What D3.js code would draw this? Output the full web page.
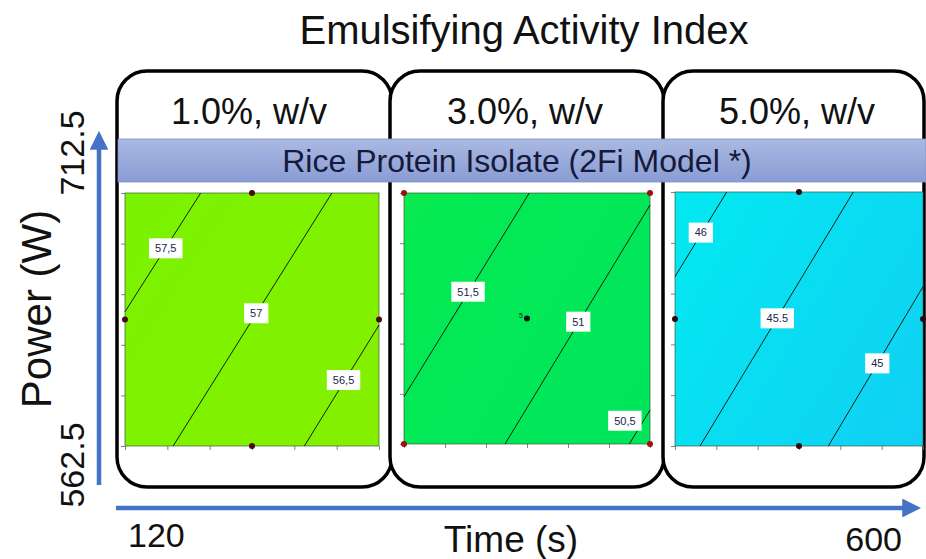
<!DOCTYPE html>
<html><head><meta charset="utf-8">
<script src="https://cdn.jsdelivr.net/npm/d3@7"></script>
<style>
body{margin:0;background:#fff}
svg{display:block;font-family:"Liberation Sans",Arial,Helvetica,sans-serif}
</style>
</head><body>
<svg id="chart" width="926" height="559"></svg>
<script>
// ---- data ----
const chartTitle = "Emulsifying Activity Index";
const bandLabel = "Rice Protein Isolate (2Fi Model *)";
const concentrations = ["1.0%, w/v", "3.0%, w/v", "5.0%, w/v"];
const timeRange = [120, 600];
const powerRange = [562.5, 712.5];
const timeTicks = [120, 200, 280, 360, 440, 520, 600];
const powerTicks = [562.5, 592.5, 622.5, 652.5, 682.5, 712.5];
const timeEndLabels = ["120", "600"];
const powerEndLabels = ["562.5", "712.5"];
const timeTitle = "Time (s)";
const powerTitle = "Power (W)";

// contour lines of the fitted EAI surface: level, printed label, path (time, power), label anchor
const contours1pct = [
  { level: 57.5, text: "57,5", path: [[263, 712.5], [120, 642.1]], at: [197, 679.7] },
  { level: 57.0, text: "57",   path: [[511, 712.5], [211, 562.5]], at: [368, 641.2] },
  { level: 56.5, text: "56,5", path: [[459, 562.5], [600, 634.2]], at: [533, 601.6] }
];
const contours3pct = [
  { level: 51.5, text: "51,5", path: [[364.5, 712.5], [120, 590.8]], at: [245, 653.5] },
  { level: 51.0, text: "51",   path: [[600, 705.3], [317.1, 562.5]], at: [460, 635.6] },
  { level: 50.5, text: "50,5", path: [[559.6, 562.5], [600, 582.8]], at: [551, 576.4] }
];
const contours5pct = [
  { level: 46.0, text: "46",   path: [[220, 712.5], [120, 662.5]], at: [170, 688.5] },
  { level: 45.5, text: "45.5", path: [[465.1, 712.5], [168.4, 562.5]], at: [318, 637.9] },
  { level: 45.0, text: "45",   path: [[416.8, 562.5], [600, 656.6]], at: [511.5, 611.3] }
];

// design runs (time, power)
const edgeRuns = [[360, 712.5], [120, 637.5], [600, 637.5], [360, 562.5]];
const cornerRuns = [[120, 712.5], [600, 712.5], [120, 562.5], [600, 562.5]];
const centerRuns = [[360, 637.5]];
const centerReplicates = ["5"];

// EAI value -> fill colour
const eaiLevels = [44.5, 46.5, 50.3, 51.8, 56.2, 57.8];
const eaiColors = ["#12cdf4", "#00eef0", "#00e45e", "#04ea52", "#84f000", "#7af300"];

// ---- layout ----
const svg = d3.select("#chart");
const W = 926, H = 559;
const blue = "#4472c4";
const fillColor = d3.scaleLinear().domain(eaiLevels).range(eaiColors).clamp(true);

const defs = svg.append("defs");

// outer rounded boxes
const boxes = [
  { x: 117, w: 275 },
  { x: 390, w: 274 },
  { x: 663, w: 261 }
];
const boxTop = 71, boxBottom = 487;

svg.selectAll("rect.box").data(boxes).join("rect")
  .attr("class", "box")
  .attr("x", d => d.x).attr("y", boxTop)
  .attr("width", d => d.w).attr("height", boxBottom - boxTop)
  .attr("rx", 30).attr("ry", 30)
  .attr("fill", "#fff").attr("stroke", "#000").attr("stroke-width", 3.5);

// title
svg.append("text").attr("x", 524).attr("y", 44)
  .attr("text-anchor", "middle").attr("font-size", 40).attr("fill", "#111")
  .text(chartTitle);

// concentration headers
const headerX = [249, 525, 797];
svg.selectAll("text.conc").data(concentrations).join("text")
  .attr("class", "conc")
  .attr("x", (d, i) => headerX[i]).attr("y", 124)
  .attr("text-anchor", "middle").attr("font-size", 36).attr("fill", "#111")
  .text(d => d);

// blue band
const bandGrad = defs.append("linearGradient").attr("id", "bandGrad")
  .attr("x1", 0).attr("y1", 0).attr("x2", 0).attr("y2", 1);
bandGrad.append("stop").attr("offset", 0).attr("stop-color", "#aab9e2");
bandGrad.append("stop").attr("offset", 1).attr("stop-color", "#899cd4");
svg.append("rect").attr("x", 118).attr("y", 139).attr("width", W - 118).attr("height", 43)
  .attr("fill", "url(#bandGrad)").attr("stroke", "#8193c6").attr("stroke-width", 0.8);
svg.append("text").attr("x", 517).attr("y", 172)
  .attr("text-anchor", "middle").attr("font-size", 32).attr("fill", "#15193a")
  .text(bandLabel);

// contour panels
const panels = [
  { x0: 125, x1: 379, y0: 193, y1: 446, contours: contours1pct, runs: edgeRuns, runColor: "#4a0a0a" },
  { x0: 404, x1: 650, y0: 193, y1: 444, contours: contours3pct, runs: cornerRuns, runColor: "#a01010", center: true },
  { x0: 675, x1: 923, y0: 192, y1: 446, contours: contours5pct, runs: edgeRuns, runColor: "#2a0a0a" }
];

panels.forEach((p, pi) => {
  const x = d3.scaleLinear().domain(timeRange).range([p.x0, p.x1]);
  const y = d3.scaleLinear().domain(powerRange).range([p.y1, p.y0]);
  const g = svg.append("g");

  // gradient perpendicular to the contour lines
  const mid = p.contours[1];
  const P1 = [x(mid.path[0][0]), y(mid.path[0][1])];
  const P2 = [x(mid.path[1][0]), y(mid.path[1][1])];
  const len = Math.hypot(P2[0] - P1[0], P2[1] - P1[1]);
  const dir = [(P2[0] - P1[0]) / len, (P2[1] - P1[1]) / len];
  const nrm = [-dir[1], dir[0]];
  const sOf = q => (q[0] - P1[0]) * nrm[0] + (q[1] - P1[1]) * nrm[1];
  const ref = p.contours[0];
  const sRef = sOf([x(ref.path[0][0]), y(ref.path[0][1])]);
  const valAt = s => mid.level + (s / sRef) * (ref.level - mid.level);
  const corners = [[p.x0, p.y0], [p.x1, p.y0], [p.x0, p.y1], [p.x1, p.y1]].map(sOf);
  const sMin = d3.min(corners), sMax = d3.max(corners);
  const gid = "fill" + pi;
  const lg = defs.append("linearGradient").attr("id", gid).attr("gradientUnits", "userSpaceOnUse")
    .attr("x1", P1[0] + nrm[0] * sMin).attr("y1", P1[1] + nrm[1] * sMin)
    .attr("x2", P1[0] + nrm[0] * sMax).attr("y2", P1[1] + nrm[1] * sMax);
  d3.range(0, 1.0001, 0.125).forEach(t => {
    lg.append("stop").attr("offset", t).attr("stop-color", fillColor(valAt(sMin + t * (sMax - sMin))));
  });

  g.append("rect").attr("x", p.x0).attr("y", p.y0)
    .attr("width", p.x1 - p.x0).attr("height", p.y1 - p.y0)
    .attr("fill", `url(#${gid})`);

  // ticks
  const ax = g.append("g").attr("transform", `translate(0,${p.y1})`)
    .call(d3.axisBottom(x).tickValues(timeTicks).tickSize(4).tickFormat(""));
  const ay = g.append("g").attr("transform", `translate(${p.x0},0)`)
    .call(d3.axisLeft(y).tickValues(powerTicks).tickSize(4).tickFormat(""));
  [ax, ay].forEach(a => {
    a.select(".domain").remove();
    a.selectAll("line").attr("stroke", "#666").attr("stroke-width", 0.8);
  });

  // frame
  g.append("rect").attr("x", p.x0).attr("y", p.y0)
    .attr("width", p.x1 - p.x0).attr("height", p.y1 - p.y0)
    .attr("fill", "none").attr("stroke", "#3c5a3c").attr("stroke-opacity", 0.7).attr("stroke-width", 1);

  // contour lines
  const line = d3.line().x(d => x(d[0])).y(d => y(d[1]));
  g.selectAll("path.contour").data(p.contours).join("path")
    .attr("class", "contour")
    .attr("d", d => line(d.path))
    .attr("fill", "none").attr("stroke", "#102010").attr("stroke-width", 1);

  // labels
  const lab = g.selectAll("g.lab").data(p.contours).join("g")
    .attr("class", "lab")
    .attr("transform", d => `translate(${x(d.at[0])},${y(d.at[1])})`);
  lab.append("text").attr("text-anchor", "middle").attr("dy", "0.35em")
    .attr("font-size", 11).attr("fill", "#23234a").text(d => d.text);
  lab.each(function () {
    const t = d3.select(this).select("text");
    const bb = t.node().getBBox();
    d3.select(this).insert("rect", "text")
      .attr("x", bb.x - 6).attr("y", -10).attr("width", bb.width + 12).attr("height", 20)
      .attr("fill", "#fff");
  });

  // design runs
  g.selectAll("circle.run").data(p.runs).join("circle")
    .attr("class", "run")
    .attr("cx", d => x(d[0])).attr("cy", d => y(d[1])).attr("r", 3)
    .attr("fill", p.runColor);
  if (p.center) {
    g.selectAll("circle.ctr").data(centerRuns).join("circle")
      .attr("class", "ctr")
      .attr("cx", d => x(d[0])).attr("cy", d => y(d[1])).attr("r", 3)
      .attr("fill", "#111");
    g.selectAll("text.ctr").data(centerRuns).join("text")
      .attr("class", "ctr")
      .attr("x", d => x(d[0]) - 6).attr("y", d => y(d[1]) - 1)
      .attr("text-anchor", "middle").attr("font-size", 7).attr("fill", "#222")
      .text((d, i) => centerReplicates[i]);
  }
});

// axis arrows
const arrow = defs.append("marker").attr("id", "arrowHead")
  .attr("viewBox", "0 0 10 10").attr("refX", 2).attr("refY", 5)
  .attr("markerWidth", 4.2).attr("markerHeight", 4.2).attr("orient", "auto")
  .attr("markerUnits", "strokeWidth");
arrow.append("path").attr("d", "M0,0 L10,5 L0,10 Z").attr("fill", blue);

svg.append("line").attr("x1", 99).attr("y1", 485).attr("x2", 99).attr("y2", 146)
  .attr("stroke", blue).attr("stroke-width", 4.5).attr("marker-end", "url(#arrowHead)");
svg.append("line").attr("x1", 116).attr("y1", 508).attr("x2", 906).attr("y2", 508)
  .attr("stroke", blue).attr("stroke-width", 4.5).attr("marker-end", "url(#arrowHead)");

// axis end labels and titles
svg.append("text").attr("x", 128).attr("y", 547).attr("font-size", 34).attr("fill", "#111")
  .text(timeEndLabels[0]);
svg.append("text").attr("x", 902).attr("y", 551).attr("text-anchor", "end").attr("font-size", 34).attr("fill", "#111")
  .text(timeEndLabels[1]);
svg.append("text").attr("x", 511).attr("y", 552).attr("text-anchor", "middle").attr("font-size", 37).attr("fill", "#111")
  .text(timeTitle);

svg.append("text").attr("transform", "translate(84,465) rotate(-90)")
  .attr("text-anchor", "middle").attr("font-size", 34).attr("fill", "#111").text(powerEndLabels[0]);
svg.append("text").attr("transform", "translate(84,153) rotate(-90)")
  .attr("text-anchor", "middle").attr("font-size", 34).attr("fill", "#111").text(powerEndLabels[1]);
svg.append("text").attr("transform", "translate(51,309) rotate(-90)")
  .attr("text-anchor", "middle").attr("font-size", 42).attr("fill", "#111").text(powerTitle);
</script>
</body></html>
